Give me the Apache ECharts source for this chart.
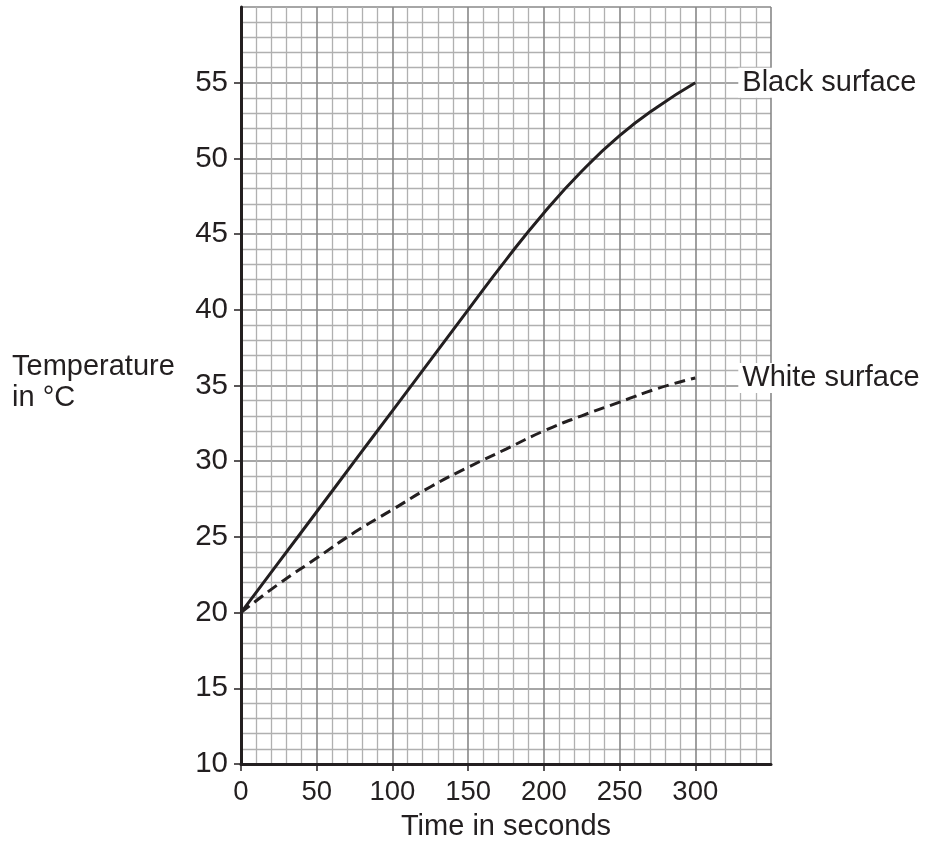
<!DOCTYPE html>
<html>
<head>
<meta charset="utf-8">
<script src="https://cdn.jsdelivr.net/npm/echarts@6/dist/echarts.min.js"></script>
<style>html,body{margin:0;padding:0;background:#fff;}#c{width:925px;height:847px;}</style>
</head>
<body>
<div id="c"></div>
<script>
var timeSeconds = [0, 25, 50, 75, 100, 125, 150, 175, 200, 225, 250, 275, 300];
var blackSurface = [20, 23.33, 26.66, 30.0, 33.33, 36.66, 40.0, 43.3, 46.4, 49.15, 51.5, 53.4, 55];
var whiteSurface = [20, 21.9, 23.6, 25.3, 26.8, 28.3, 29.6, 30.8, 32.0, 33.0, 33.9, 34.8, 35.5];
var xTickLabels = [0, 50, 100, 150, 200, 250, 300];
var yTickLabels = [10, 15, 20, 25, 30, 35, 40, 45, 50, 55];
var seriesNames = ['Black surface', 'White surface'];
var xTitle = 'Time in seconds';
var yTitle = 'Temperature\nin °C';

function pairs(xs, ys) { return xs.map(function (x, i) { return [x, ys[i]]; }); }

var ink = '#231f20';
var font = 'Liberation Sans, Arial, sans-serif';
var chart = echarts.init(document.getElementById('c'));
var endLbl = {
  show: true, formatter: '{a}', color: ink, fontSize: 29, fontFamily: font,
  backgroundColor: '#fff', padding: [0, 4, 0, 4], lineHeight: 30, distance: 43
};
chart.setOption({
  animation: false,
  backgroundColor: '#fff',
  grid: { left: 241, top: 7, width: 530, height: 757, containLabel: false },
  xAxis: [
    { type: 'value', min: 0, max: 350, interval: 50, position: 'bottom',
      axisLine: { show: false }, axisTick: { show: false }, axisLabel: { show: false },
      splitLine: { show: true, lineStyle: { color: '#888888', width: 1.6 } },
      minorTick: { show: false, splitNumber: 5 },
      minorSplitLine: { show: true, lineStyle: { color: '#b0b0b0', width: 1.3 } } },
    { type: 'value', min: 0, max: 350, interval: 50, position: 'bottom',
      axisLine: { show: true, onZero: false, lineStyle: { color: ink, width: 3 } },
      axisTick: { show: true, length: 7, inside: false, customValues: xTickLabels, lineStyle: { color: ink, width: 1.5 } },
      axisLabel: { show: true, customValues: xTickLabels, margin: 14, color: ink, fontSize: 27.5, fontFamily: font },
      splitLine: { show: false } }
  ],
  yAxis: [
    { type: 'value', min: 10, max: 60, interval: 5, position: 'left',
      axisLine: { show: false }, axisTick: { show: false }, axisLabel: { show: false },
      splitLine: { show: true, lineStyle: { color: '#888888', width: 1.6 } },
      minorTick: { show: false, splitNumber: 5 },
      minorSplitLine: { show: true, lineStyle: { color: '#b0b0b0', width: 1.3 } } },
    { type: 'value', min: 10, max: 60, interval: 5, position: 'left',
      axisLine: { show: true, onZero: false, lineStyle: { color: ink, width: 3 } },
      axisTick: { show: true, length: 7, inside: false, customValues: yTickLabels, lineStyle: { color: ink, width: 1.5 } },
      axisLabel: { show: true, customValues: yTickLabels, margin: 13, color: ink, fontSize: 29.5, fontFamily: font },
      splitLine: { show: false } }
  ],
  series: [
    { name: seriesNames[0], type: 'line', xAxisIndex: 0, yAxisIndex: 0,
      data: pairs(timeSeconds, blackSurface), smooth: 0.5, showSymbol: false, symbol: 'none',
      lineStyle: { color: ink, width: 3 }, endLabel: endLbl, z: 5 },
    { name: seriesNames[1], type: 'line', xAxisIndex: 0, yAxisIndex: 0,
      data: pairs(timeSeconds, whiteSurface), smooth: 0.5, showSymbol: false, symbol: 'none',
      lineStyle: { color: ink, width: 3, type: [11, 6] }, endLabel: endLbl, z: 5 }
  ],
  graphic: [
    { type: 'text', left: 12, top: 351, style: { text: yTitle, fill: ink, fontSize: 29, fontFamily: font, lineHeight: 31 } },
    { type: 'text', x: 506, y: 827, style: { text: xTitle, fill: ink, fontSize: 29, fontFamily: font, textAlign: 'center', textVerticalAlign: 'middle' } }
  ]
});
</script>
</body>
</html>
